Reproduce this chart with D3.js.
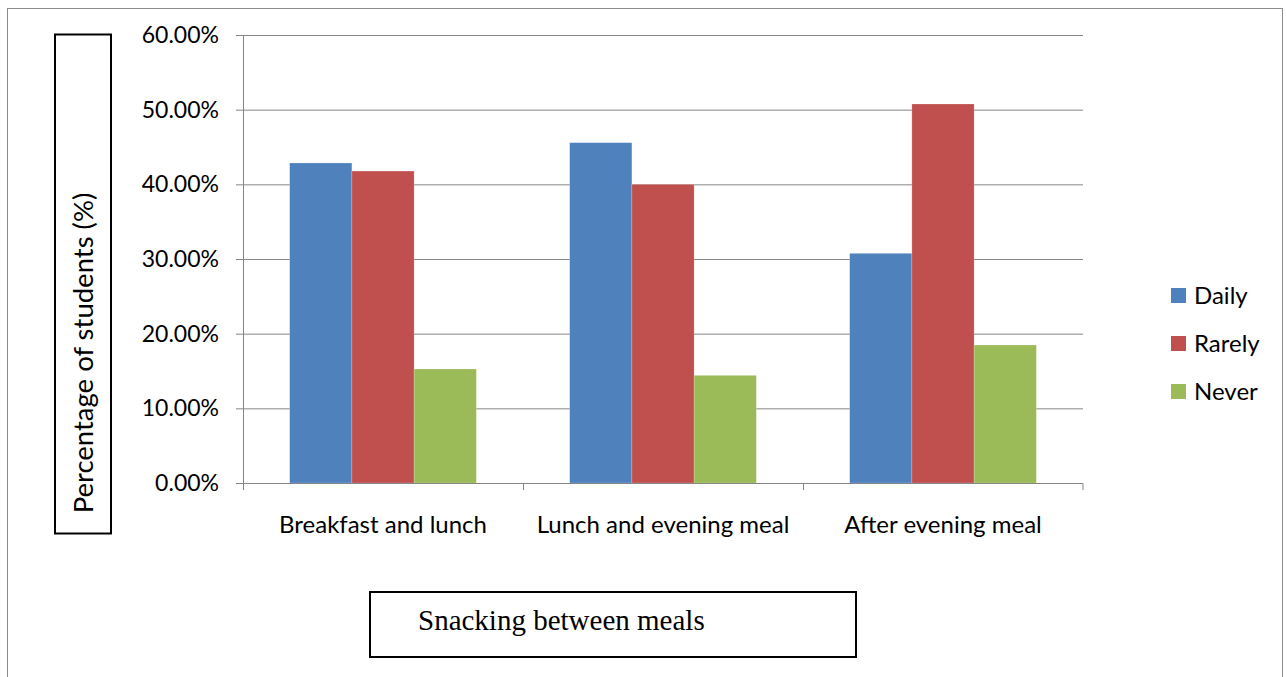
<!DOCTYPE html>
<html>
<head>
<meta charset="utf-8">
<script src="https://cdn.jsdelivr.net/npm/d3@7"></script>
<style>
  html, body { margin: 0; padding: 0; background: #fff; }
  svg { display: block; }
  .tick text { font-family: Lato, "Open Sans", sans-serif; fill: #000; }
</style>
</head>
<body>
<div id="chart"></div>
<script>
// data
const categories = ["Breakfast and lunch", "Lunch and evening meal", "After evening meal"];
const seriesNames = ["Daily", "Rarely", "Never"];
const daily = [0.4286, 0.4558, 0.3076];
const rarely = [0.4178, 0.4000, 0.5076];
const never = [0.1527, 0.1442, 0.1848];
const yTicks = [0, 0.1, 0.2, 0.3, 0.4, 0.5, 0.6];
const colors = ["#4F81BD", "#C0504D", "#9BBB59"];

const values = [daily, rarely, never];
const rows = categories.map((c, i) => ({
  category: c,
  bars: seriesNames.map((s, j) => ({ series: s, value: values[j][i] }))
}));

const width = 1287, height = 677;
const margin = { top: 35, right: 204, bottom: 194, left: 243 };
const plotW = width - margin.left - margin.right;
const plotH = height - margin.top - margin.bottom;
const font = 'Lato, "Open Sans", sans-serif';

const svg = d3.select("#chart").append("svg")
  .attr("width", width)
  .attr("height", height);

// outer chart frame
svg.append("rect")
  .attr("x", 7.5).attr("y", 8.5)
  .attr("width", 1275).attr("height", 700)
  .attr("fill", "none")
  .attr("stroke", "#8c8c8c")
  .attr("stroke-width", 1);

const g = svg.append("g")
  .attr("transform", "translate(" + margin.left + "," + margin.top + ")");

const x0 = d3.scaleBand()
  .domain(categories)
  .range([0, plotW])
  .padding(0);

const x1 = d3.scaleBand()
  .domain(seriesNames)
  .range([0, x0.bandwidth()])
  .paddingInner(0)
  .paddingOuter(0.75);

const y = d3.scaleLinear()
  .domain([0, 0.6])
  .range([plotH, 0]);

// gridlines + y axis
g.append("g")
  .attr("class", "y axis")
  .call(
    d3.axisLeft(y)
      .tickValues(yTicks)
      .tickSize(-plotW - 7)
      .tickFormat(d => (d * 100).toFixed(2) + "%")
  )
  .call(ax => ax.select(".domain").remove())
  .call(ax => ax.selectAll(".tick line")
    .attr("x1", -7)
    .attr("x2", plotW)
    .attr("stroke", "#868686"))
  .call(ax => ax.selectAll(".tick text")
    .attr("x", -24)
    .style("font-size", "23px"));

g.append("line")
  .attr("x1", 0.5).attr("x2", 0.5)
  .attr("y1", 0).attr("y2", plotH)
  .attr("stroke", "#868686");

// bars
const groups = g.selectAll(".group")
  .data(rows)
  .enter().append("g")
  .attr("class", "group")
  .attr("transform", d => "translate(" + x0(d.category) + ",0)");

groups.selectAll("rect")
  .data(d => d.bars)
  .enter().append("rect")
  .attr("x", d => x1(d.series))
  .attr("y", d => y(d.value))
  .attr("width", x1.bandwidth())
  .attr("height", d => plotH - y(d.value))
  .attr("fill", (d, i) => colors[i])
  .attr("stroke", "rgba(255,255,255,0.35)")
  .attr("stroke-width", 0.6);

// x axis
g.append("g")
  .attr("class", "x axis")
  .attr("transform", "translate(0," + plotH + ")")
  .call(
    d3.axisBottom(x0)
      .tickSize(0)
  )
  .call(ax => ax.select(".domain")
    .attr("stroke", "#868686")
    .attr("d", "M0.5,7V0.5H" + plotW + "V7"))
  .call(ax => ax.selectAll(".tick text")
    .attr("dy", "0")
    .attr("y", 50)
    .style("font-size", "24px"));

g.append("g")
  .selectAll("line")
  .data(categories.slice(1))
  .enter().append("line")
  .attr("x1", d => Math.round(x0(d)) + 0.5)
  .attr("x2", d => Math.round(x0(d)) + 0.5)
  .attr("y1", plotH)
  .attr("y2", plotH + 7)
  .attr("stroke", "#868686");

// y axis title in a box
svg.append("rect")
  .attr("x", 55).attr("y", 34.5)
  .attr("width", 56).attr("height", 499)
  .attr("fill", "none")
  .attr("stroke", "#000")
  .attr("stroke-width", 2);

svg.append("text")
  .attr("transform", "translate(93,353) rotate(-90)")
  .attr("text-anchor", "middle")
  .style("font-family", font)
  .style("font-size", "27.5px")
  .text("Percentage of students (%)");

// x axis title in a box
svg.append("rect")
  .attr("x", 370).attr("y", 592)
  .attr("width", 486).attr("height", 65)
  .attr("fill", "none")
  .attr("stroke", "#000")
  .attr("stroke-width", 2);

svg.append("text")
  .attr("x", 418).attr("y", 630)
  .style("font-family", '"Liberation Serif", "Times New Roman", serif')
  .style("font-size", "29px")
  .text("Snacking between meals");

// legend
const legend = svg.append("g")
  .attr("transform", "translate(1171,288)");

const items = legend.selectAll(".item")
  .data(seriesNames)
  .enter().append("g")
  .attr("class", "item")
  .attr("transform", (d, i) => "translate(0," + i * 48 + ")");

items.append("rect")
  .attr("width", 15).attr("height", 15)
  .attr("fill", (d, i) => colors[i]);

items.append("text")
  .attr("x", 23).attr("y", 16)
  .style("font-family", font)
  .style("font-size", "24px")
  .text(d => d);
</script>
</body>
</html>
